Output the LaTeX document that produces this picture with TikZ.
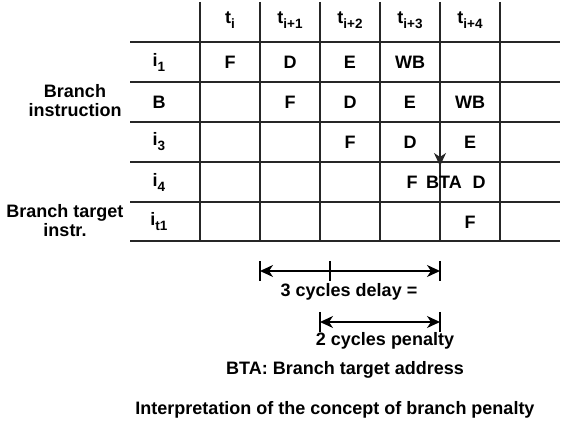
\documentclass[tikz,border=0pt]{standalone}
\usepackage{fontspec}
\setmainfont{Liberation Sans}
\usetikzlibrary{arrows.meta}

% subindice en texto (t_{i+1}, i_1, ...)
\newcommand{\subtxt}[1]{\raisebox{-5pt}{\fontsize{13.5}{13.5}\selectfont #1}}

\begin{document}
\begin{tikzpicture}[
    x=1pt, y=-1pt,
    font=\fontsize{18}{19}\selectfont\bfseries,
    % Lineas de la tabla de etapas
    grid/.style={line width=1.3pt, draw=black!85},
    % Etapas del pipeline (F, D, E, WB)
    stage/.style={font=\fontsize{18}{19}\selectfont\bfseries},
    cyc/.style={font=\fontsize{18}{19}\selectfont\bfseries},
    lbl/.style={align=center, font=\fontsize{18}{19}\selectfont\bfseries},
    % Cotas de retardo y penalizacion
    dim/.style={line width=1.3pt, {Stealth[length=13pt,width=12pt,inset=4pt]}-{Stealth[length=13pt,width=12pt,inset=4pt]}},
    tickmark/.style={line width=1.3pt}
]
\useasboundingbox (0,0) rectangle (563,422);

% --- Rejilla ---
\draw[grid] (130,42) -- (560,42) (130,82) -- (560,82) (130,122) -- (560,122)
            (130,162) -- (560,162) (130,202) -- (560,202) (130,241) -- (560,241);
\draw[grid] (200,2) -- (200,241) (260,2) -- (260,241) (320,2) -- (320,241)
            (380,2) -- (380,241) (440,2) -- (440,241) (500,2) -- (500,241);

% --- Ciclos ---
\node[cyc] (t0) at (230,20) {t\subtxt{i}};
\node[cyc] (t1) at (290,20) {t\subtxt{i+1}};
\node[cyc] (t2) at (350,20) {t\subtxt{i+2}};
\node[cyc] (t3) at (410,20) {t\subtxt{i+3}};
\node[cyc] (t4) at (470,20) {t\subtxt{i+4}};

% --- Instrucciones ---
\node[cyc] (r1) at (159,62) {i\subtxt{1}};
\node[stage] (r2) at (159,102) {B};
\node[cyc] (r3) at (159,142) {i\subtxt{3}};
\node[cyc] (r4) at (159,182) {i\subtxt{4}};
\node[cyc] (r5) at (159,222) {i\subtxt{t1}};

\node[lbl] (brinstr) at (75,101) {Branch\\instruction};
\node[lbl] (brtarget) at (65,221) {Branch target\\instr.};

% --- Etapas ---
\node[stage] (f1) at (230,62) {F};
\node[stage] (d1) at (290,62) {D};
\node[stage] (e1) at (350,62) {E};
\node[stage] (w1) at (410,62) {WB};

\node[stage] (f2) at (290,102) {F};
\node[stage] (d2) at (350,102) {D};
\node[stage] (e2) at (410,102) {E};
\node[stage] (w2) at (470,102) {WB};

\node[stage] (f3) at (350,142) {F};
\node[stage] (d3) at (410,142) {D};
\node[stage] (e3) at (470,142) {E};

\node[stage] (f4) at (412,182) {F};
\node[stage] (bta4) at (444,182) {BTA};
\node[stage] (d4) at (479,182) {D};

\node[stage] (f5) at (470,222) {F};

% --- Direccion destino ---
\coordinate (btastart) at (440,117);
\coordinate (btaend) at (440,166);
\draw[grid, -{Stealth[length=13pt,width=12pt,inset=4pt]}] (btastart) -- (btaend);

% --- Cotas ---
\coordinate (delayl) at (260,271);
\coordinate (delaym) at (330,271);
\coordinate (delayr) at (440,271);
\draw[dim] (delayl) -- (delayr);
\draw[tickmark] (delayl) ++(0,-10) -- ++(0,20);
\draw[tickmark] (delaym) ++(0,-10) -- ++(0,20);
\draw[tickmark] (delayr) ++(0,-10) -- ++(0,20);
\node[lbl] (delay) at (349,292) {3 cycles delay =};

\coordinate (penl) at (320,322);
\coordinate (penr) at (440,322);
\draw[dim] (penl) -- (penr);
\draw[tickmark] (penl) ++(0,-10) -- ++(0,20);
\draw[tickmark] (penr) ++(0,-10) -- ++(0,20);
\node[lbl] (penalty) at (385,341) {2 cycles penalty};

\node[lbl] (btanote) at (345,370) {BTA: Branch target address};
\node[lbl] (caption) at (335,410) {Interpretation of the concept of branch penalty};

\end{tikzpicture}
\end{document}
